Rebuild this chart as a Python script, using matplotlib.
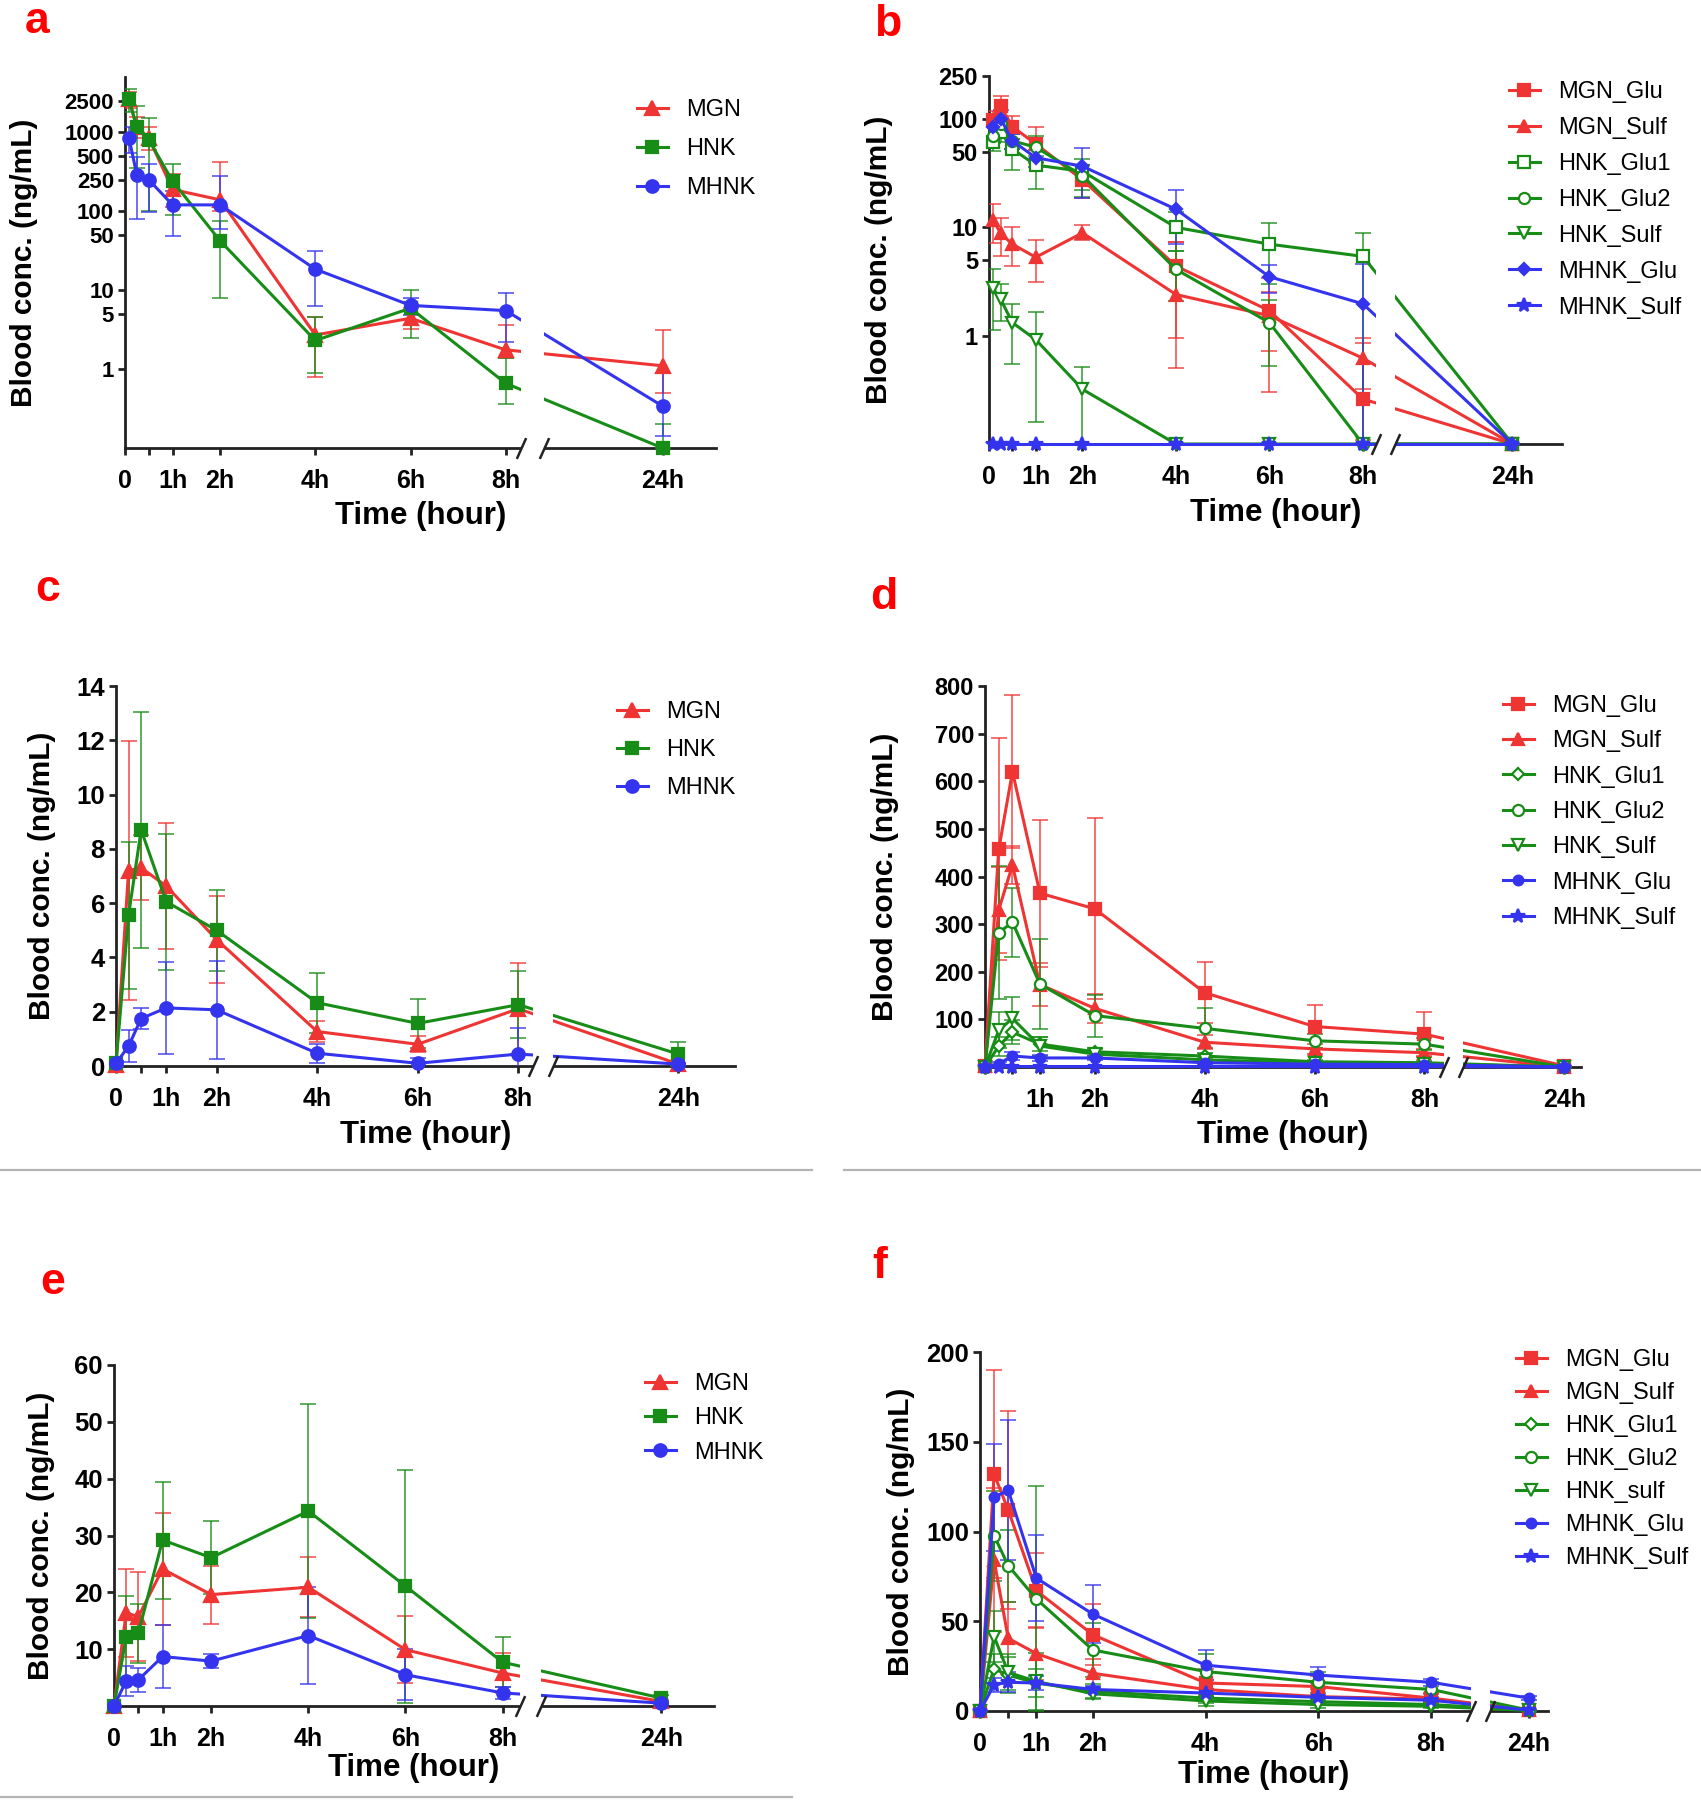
import numpy as np
import matplotlib
matplotlib.use("Agg")
import matplotlib.pyplot as plt
from matplotlib.lines import Line2D
from matplotlib.ticker import FixedLocator, FixedFormatter, NullLocator

W, H = 1701, 1800
plt.rcParams["font.family"] = ["Liberation Sans", "DejaVu Sans"]

RED = "#ef3434"
GREEN = "#178c17"
BLUE = "#3434ee"
AXIS = "#222222"

T_LOG = [0.083, 0.25, 0.5, 1, 2, 4, 6, 8, 24]
T_LIN = [0, 0.25, 0.5, 1, 2, 4, 6, 8, 24]
X_TICKS = [0, 0.5, 1, 2, 4, 6, 8, 24]
X_LABELS = ["0", "", "1h", "2h", "4h", "6h", "8h", "24h"]

# ---- panel a (log scale, lower / upper error) ----
a_mgn = [2600, 1150, 850, 188, 139, 2.7, 4.4, 1.75, 1.1]
a_mgn_lo = [600, 300, 250, 74, 40, 1.9, 1.2, 0.36, 0.6]
a_mgn_hi = [600, 400, 300, 107, 278, 1.9, 1.5, 1.85, 2.06]
a_hnk = [2600, 1150, 800, 240, 42, 2.3, 5.9, 0.66, 0.1]
a_hnk_lo = [800, 800, 700, 150, 34, 1.4, 3.4, 0.3, 0]
a_hnk_hi = [900, 1000, 730, 160, 34, 2.3, 4.2, 0.73, 0.1]
a_mhnk = [850, 286, 249, 120, 120, 18.4, 6.4, 5.5, 0.34]
a_mhnk_lo = [300, 206, 151, 72, 60, 12.2, 1.6, 3.3, 0.2]
a_mhnk_hi = [300, 204, 151, 60, 160, 12.6, 1.6, 3.6, 0.55]

# ---- panel b (log scale) ----
b_mgn_glu = [98, 132, 85, 59, 27.5, 4.4, 1.7, 0.26, 0.1]
b_mgn_glu_lo = [20, 30, 20, 20, 9, 3.9, 1.4, 0.15, 0]
b_mgn_glu_hi = [20, 32, 21, 26, 10, 3, 1.7, 0.6, 0]
b_mgn_sulf = [11.8, 8.8, 7.0, 5.3, 8.9, 2.4, 1.53, 0.62, 0.1]
b_mgn_sulf_lo = [4.6, 3.4, 2.6, 2.2, 1.3, 1.45, 0.8, 0.3, 0]
b_mgn_sulf_hi = [4.6, 3.4, 3.0, 2.3, 1.7, 5.0, 1.0, 0.33, 0]
b_hnk_glu1 = [61, 76, 53, 37.6, 32.9, 10, 7.0, 5.4, 0.1]
b_hnk_glu1_lo = [10, 15, 19, 15, 14, 4, 4, 5.3, 0]
b_hnk_glu1_hi = [10, 15, 12, 8, 10, 4, 4, 3.4, 0]
b_hnk_glu2 = [70, 91, 63, 55, 30, 4.1, 1.32, 0.1, 0.1]
b_hnk_glu2_lo = [10, 12, 10, 15, 8, 2, 0.8, 0, 0]
b_hnk_glu2_hi = [10, 12, 10, 15, 8, 2, 0.8, 0, 0]
b_hnk_sulf = [2.74, 2.17, 1.32, 0.92, 0.32, 0.1, 0.1, 0.1, 0.1]
b_hnk_sulf_lo = [1.6, 0.8, 0.77, 0.76, 0.22, 0, 0, 0, 0]
b_hnk_sulf_hi = [1.4, 0.8, 0.65, 0.72, 0.19, 0, 0, 0, 0]
b_mhnk_glu = [85, 101, 63, 44, 36.7, 14.7, 3.5, 1.97, 0.1]
b_mhnk_glu_lo = [15, 20, 10, 8, 18, 7.6, 1, 1.9, 0]
b_mhnk_glu_hi = [15, 20, 10, 8, 17.3, 7.6, 1, 2.6, 0]
b_mhnk_sulf = [0.1, 0.1, 0.1, 0.1, 0.1, 0.1, 0.1, 0.1, 0.1]

# ---- panel c ----
c_mgn = [0.05, 7.2, 7.3, 6.63, 4.66, 1.27, 0.8, 2.11, 0.07]
c_mgn_sd = [0.05, 4.76, 1.2, 2.33, 1.6, 0.4, 0.3, 1.68, 0.05]
c_hnk = [0.1, 5.55, 8.7, 6.05, 5.0, 2.33, 1.57, 2.26, 0.44]
c_hnk_sd = [0.1, 2.7, 4.35, 2.5, 1.5, 1.1, 0.9, 1.24, 0.43]
c_mhnk = [0.1, 0.73, 1.75, 2.14, 2.07, 0.47, 0.1, 0.44, 0.07]
c_mhnk_sd = [0.1, 0.58, 0.4, 1.7, 1.8, 0.35, 0.2, 0.97, 0.05]

# ---- panel d ----
d_mgn_glu = [2, 457, 620, 365, 332, 156, 85, 69, 2.5]
d_mgn_glu_sd = [0, 233, 161, 154, 190, 64, 46, 46, 0]
d_mgn_sulf = [2, 330, 424, 173, 123, 52, 38, 30, 0]
d_mgn_sulf_sd = [0, 90, 40, 45, 30, 15, 10, 8, 0]
d_hnk_glu1 = [0, 44, 73, 48, 32, 23, 11, 9, 0]
d_hnk_glu1_sd = [0, 20, 25, 15, 8, 6, 4, 3, 0]
d_hnk_glu2 = [0, 282, 304, 174, 108, 81, 55, 48, 0]
d_hnk_glu2_sd = [0, 140, 72, 94, 44, 42, 15, 12, 0]
d_hnk_sulf = [0, 77, 102, 44, 27, 15, 8, 7, 0]
d_hnk_sulf_sd = [0, 38, 46, 20, 10, 5, 3, 3, 0]
d_mhnk_glu = [0, 7, 23, 19, 19, 9, 6, 5, 0]
d_mhnk_glu_sd = [0, 4, 8, 6, 5, 3, 2, 2, 0]
d_mhnk_sulf = [0, 1, 1, 1, 1, 1, 1, 1, 0]

# ---- panel e ----
e_mgn = [0, 16.4, 15.7, 24.1, 19.6, 20.9, 9.9, 5.8, 0.8]
e_mgn_sd = [0, 7.7, 7.8, 9.9, 5.1, 5.3, 5.9, 3.6, 0.3]
e_hnk = [0, 12.1, 12.8, 29.2, 26.1, 34.3, 21.1, 7.7, 1.4]
e_hnk_sd = [0, 7.2, 5.2, 10.3, 6.4, 18.8, 20.5, 4.4, 0.5]
e_mhnk = [0, 4.4, 4.6, 8.7, 7.9, 12.4, 5.5, 2.3, 0.5]
e_mhnk_sd = [0, 2.7, 2.1, 5.6, 1.2, 8.6, 4.5, 1.0, 0.2]

# ---- panel f ----
f_mgn_glu = [0, 132, 112, 67, 42.5, 15.6, 13.6, 7.2, 0.5]
f_mgn_glu_sd = [0, 58, 55, 21, 17, 8, 6, 3, 0.3]
f_mgn_sulf = [0, 84, 40.5, 32, 21, 12, 8, 6.6, 0.5]
f_mgn_sulf_sd = [0, 40, 20, 15, 8, 5, 4, 3, 0.3]
f_hnk_glu1 = [0, 23.5, 20, 15.6, 11, 7.2, 5.2, 3.6, 0.5]
f_hnk_glu1_sd = [0, 8, 10, 8, 4, 3, 2, 1.5, 0.2]
f_hnk_glu2 = [0, 97.7, 81, 62.4, 34, 22, 16, 12, 0.5]
f_hnk_glu2_sd = [0, 25, 20, 63, 15, 10, 6, 4, 0.3]
f_hnk_sulf = [0, 41.5, 21.5, 16.5, 9.6, 5.6, 3.6, 2.6, 0.3]
f_hnk_sulf_sd = [0, 14, 10, 16, 3, 3, 2, 1, 0.2]
f_mhnk_glu = [0, 119, 123, 74, 54, 25.5, 20, 16, 7.2]
f_mhnk_glu_sd = [0, 30, 39, 24, 16, 8.5, 4.5, 2, 1]
f_mhnk_sulf = [0, 14.6, 16, 15.6, 12, 10, 7.6, 6, 0.5]
f_mhnk_sulf_sd = [0, 4, 5.5, 4, 2, 2, 1.5, 1, 0.2]

# label -> (color, marker, filled, size)
STYLE = {
    "MGN": (RED, "^", True, 10),
    "HNK": (GREEN, "s", True, 9),
    "MHNK": (BLUE, "o", True, 9),
    "MGN_Glu": (RED, "s", True, 8),
    "MGN_Sulf": (RED, "^", True, 8),
    "HNK_Glu1": (GREEN, "s", False, 8),
    "HNK_Glu1d": (GREEN, "D", False, 6),
    "HNK_Glu2": (GREEN, "o", False, 8),
    "HNK_Sulf": (GREEN, "v", False, 8),
    "MHNK_Glu": (BLUE, "D", True, 6),
    "MHNK_Gluo": (BLUE, "o", True, 7),
    "MHNK_Sulf": (BLUE, "*", True, 10),
}


def time_scale(k):
    def fwd(t):
        t = np.asarray(t, dtype=float)
        return np.where(t <= 8, t, 8 + (t - 8) * k)

    def inv(d):
        d = np.asarray(d, dtype=float)
        return np.where(d <= 8, d, 8 + (d - 8) / k)

    return fwd, inv


def draw_panel(fig, p):
    l, t, r, b = p["box"]
    ax = fig.add_axes([l / W, 1 - b / H, (r - l) / W, (b - t) / H])
    fwd, inv = time_scale(p["k"])
    ax.set_xscale("function", functions=(fwd, inv))
    if p["log"]:
        ax.set_yscale("log")
    ax.set_xlim(0, float(inv(p["dmax"])))
    ax.set_ylim(*p["ylim"])

    handles = []
    for name, style, times, y, err in p["series"]:
        color, marker, filled, size = STYLE[style]
        if err is not None:
            ax.errorbar(times, y, yerr=err, fmt="none", ecolor=color, elinewidth=1.4,
                        capsize=6, capthick=1.4, alpha=0.7, zorder=2.6)
        h, = ax.plot(times, y, color=color, lw=2.2, marker=marker, markersize=size,
                     markerfacecolor=color if filled else "white",
                     markeredgecolor=color, markeredgewidth=1.6,
                     clip_on=False, zorder=3, label=name)
        handles.append(h)

    # axis break on the time axis
    d0, d1 = p["gap"]
    ax.axvspan(float(inv(d0)), float(inv(d1)), ymin=-0.03, ymax=1.0, color="white",
               lw=0, zorder=4, clip_on=False)
    ax.plot([float(inv(d0)), float(inv(d1))], [0, 0], transform=ax.get_xaxis_transform(),
            marker=[(-0.45, -1), (0.45, 1)], markersize=15, mew=1.8, ls="none",
            color=AXIS, clip_on=False, zorder=5)

    for side in ("top", "right"):
        ax.spines[side].set_visible(False)
    for side in ("left", "bottom"):
        ax.spines[side].set_linewidth(2.0)
        ax.spines[side].set_color(AXIS)

    ax.xaxis.set_major_locator(FixedLocator(X_TICKS))
    ax.xaxis.set_major_formatter(FixedFormatter(p["xlabels"]))
    ax.xaxis.set_minor_locator(NullLocator())
    ax.yaxis.set_major_locator(FixedLocator(p["yticks"]))
    ax.yaxis.set_major_formatter(FixedFormatter([str(v) for v in p["yticks"]]))
    ax.yaxis.set_minor_locator(NullLocator())
    ax.tick_params(axis="both", direction="out", length=5, width=2, color=AXIS)
    ax.tick_params(axis="x", pad=10, labelsize=18)
    ax.tick_params(axis="y", pad=3, labelsize=p["ytsize"])
    for lab in ax.get_xticklabels() + ax.get_yticklabels():
        lab.set_fontweight("bold")

    ax.set_ylabel("Blood conc. (ng/mL)", fontsize=21.5, fontweight="bold")
    ax.yaxis.set_label_coords((p["ylab_x"] - l) / (r - l), 0.5)
    ax.set_xlabel("Time (hour)", fontsize=22.5, fontweight="bold")
    ax.xaxis.set_label_coords(0.5, -(p["xlab_y"] - b) / (b - t))

    lx, ly, spacing = p["legend"]
    leg = ax.legend(handles=handles, loc="upper left", bbox_to_anchor=(lx / W, 1 - ly / H),
                    bbox_transform=fig.transFigure, frameon=False, fontsize=17,
                    borderpad=0, borderaxespad=0, handlelength=1.3, handletextpad=0.8,
                    labelspacing=spacing, numpoints=1)
    leg.set_zorder(6)

    fig.text(p["letter"][0] / W, 1 - p["letter"][1] / H, p["letter"][2], color="#ff0000",
             fontsize=32, fontweight="bold", ha="left", va="baseline")
    return ax


def sd(lo, hi):
    return [lo, hi]


panels = [
    dict(box=(125, 77, 716, 448), log=True, ylim=(0.1, 5000), k=0.206, dmax=12.42, gap=(8.33, 8.80),
         yticks=[1, 5, 10, 50, 100, 250, 500, 1000, 2500], ytsize=16, xlabels=X_LABELS,
         ylab_x=38, xlab_y=501, legend=(637, 99, 0.72), letter=(25, 33, "a"),
         series=[("MGN", "MGN", T_LOG, a_mgn, sd(a_mgn_lo, a_mgn_hi)),
                 ("HNK", "HNK", T_LOG, a_hnk, sd(a_hnk_lo, a_hnk_hi)),
                 ("MHNK", "MHNK", T_LOG, a_mhnk, sd(a_mhnk_lo, a_mhnk_hi))]),
    dict(box=(989, 76, 1562, 444), log=True, ylim=(0.1, 250), k=0.2, dmax=12.26, gap=(8.27, 8.68),
         yticks=[1, 5, 10, 50, 100, 250], ytsize=17, xlabels=X_LABELS,
         ylab_x=893, xlab_y=498, legend=(1509, 81, 0.59), letter=(874, 36, "b"),
         series=[("MGN_Glu", "MGN_Glu", T_LOG, b_mgn_glu, sd(b_mgn_glu_lo, b_mgn_glu_hi)),
                 ("MGN_Sulf", "MGN_Sulf", T_LOG, b_mgn_sulf, sd(b_mgn_sulf_lo, b_mgn_sulf_hi)),
                 ("HNK_Glu1", "HNK_Glu1", T_LOG, b_hnk_glu1, sd(b_hnk_glu1_lo, b_hnk_glu1_hi)),
                 ("HNK_Glu2", "HNK_Glu2", T_LOG, b_hnk_glu2, sd(b_hnk_glu2_lo, b_hnk_glu2_hi)),
                 ("HNK_Sulf", "HNK_Sulf", T_LOG, b_hnk_sulf, sd(b_hnk_sulf_lo, b_hnk_sulf_hi)),
                 ("MHNK_Glu", "MHNK_Glu", T_LOG, b_mhnk_glu, sd(b_mhnk_glu_lo, b_mhnk_glu_hi)),
                 ("MHNK_Sulf", "MHNK_Sulf", T_LOG, b_mhnk_sulf, None)]),
    dict(box=(116, 686, 735, 1066), log=False, ylim=(0, 14), k=0.199, dmax=12.31, gap=(8.29, 8.70),
         yticks=[0, 2, 4, 6, 8, 10, 12, 14], ytsize=18.5, xlabels=X_LABELS,
         ylab_x=56, xlab_y=1120, legend=(617, 701, 0.68), letter=(35, 601, "c"),
         series=[("MGN", "MGN", T_LIN, c_mgn, c_mgn_sd),
                 ("HNK", "HNK", T_LIN, c_hnk, c_hnk_sd),
                 ("MHNK", "MHNK", T_LIN, c_mhnk, c_mhnk_sd)]),
    dict(box=(985, 686, 1581, 1067), log=False, ylim=(0, 800), k=0.159, dmax=10.85, gap=(8.35, 8.70),
         yticks=[100, 200, 300, 400, 500, 600, 700, 800], ytsize=17,
         xlabels=["", "", "1h", "2h", "4h", "6h", "8h", "24h"],
         ylab_x=899, xlab_y=1120, legend=(1503, 695, 0.565), letter=(870, 609, "d"),
         series=[("MGN_Glu", "MGN_Glu", T_LIN, d_mgn_glu, d_mgn_glu_sd),
                 ("MGN_Sulf", "MGN_Sulf", T_LIN, d_mgn_sulf, d_mgn_sulf_sd),
                 ("HNK_Glu1", "HNK_Glu1d", T_LIN, d_hnk_glu1, d_hnk_glu1_sd),
                 ("HNK_Glu2", "HNK_Glu2", T_LIN, d_hnk_glu2, d_hnk_glu2_sd),
                 ("HNK_Sulf", "HNK_Sulf", T_LIN, d_hnk_sulf, d_hnk_sulf_sd),
                 ("MHNK_Glu", "MHNK_Gluo", T_LIN, d_mhnk_glu, d_mhnk_glu_sd),
                 ("MHNK_Sulf", "MHNK_Sulf", T_LIN, d_mhnk_sulf, None)]),
    dict(box=(114, 1365, 714, 1706), log=False, ylim=(0, 60), k=0.204, dmax=12.35, gap=(8.36, 8.78),
         yticks=[10, 20, 30, 40, 50, 60], ytsize=18.5, xlabels=X_LABELS,
         ylab_x=55, xlab_y=1753, legend=(645, 1373, 0.52), letter=(40, 1294, "e"),
         series=[("MGN", "MGN", T_LIN, e_mgn, e_mgn_sd),
                 ("HNK", "HNK", T_LIN, e_hnk, e_hnk_sd),
                 ("MHNK", "MHNK", T_LIN, e_mhnk, e_mhnk_sd)]),
    dict(box=(980, 1352, 1548, 1711), log=False, ylim=(0, 200), k=0.108, dmax=10.07, gap=(8.71, 9.05),
         yticks=[0, 50, 100, 150, 200], ytsize=18.5, xlabels=X_LABELS,
         ylab_x=915, xlab_y=1760, legend=(1516, 1349, 0.465), letter=(872, 1278, "f"),
         series=[("MGN_Glu", "MGN_Glu", T_LIN, f_mgn_glu, f_mgn_glu_sd),
                 ("MGN_Sulf", "MGN_Sulf", T_LIN, f_mgn_sulf, f_mgn_sulf_sd),
                 ("HNK_Glu1", "HNK_Glu1d", T_LIN, f_hnk_glu1, f_hnk_glu1_sd),
                 ("HNK_Glu2", "HNK_Glu2", T_LIN, f_hnk_glu2, f_hnk_glu2_sd),
                 ("HNK_sulf", "HNK_Sulf", T_LIN, f_hnk_sulf, f_hnk_sulf_sd),
                 ("MHNK_Glu", "MHNK_Gluo", T_LIN, f_mhnk_glu, f_mhnk_glu_sd),
                 ("MHNK_Sulf", "MHNK_Sulf", T_LIN, f_mhnk_sulf, f_mhnk_sulf_sd)]),
]

fig = plt.figure(figsize=(W / 100, H / 100), dpi=100)
for p in panels:
    draw_panel(fig, p)

# thin grey separators between panel rows
for x0, x1, y in [(0, 812, 1170), (844, 1701, 1170), (0, 792, 1797)]:
    fig.add_artist(Line2D([x0 / W, x1 / W], [1 - y / H, 1 - y / H], color="#b4b4b4", lw=1.6))

fig.savefig("out.png", dpi=100, facecolor="white")
